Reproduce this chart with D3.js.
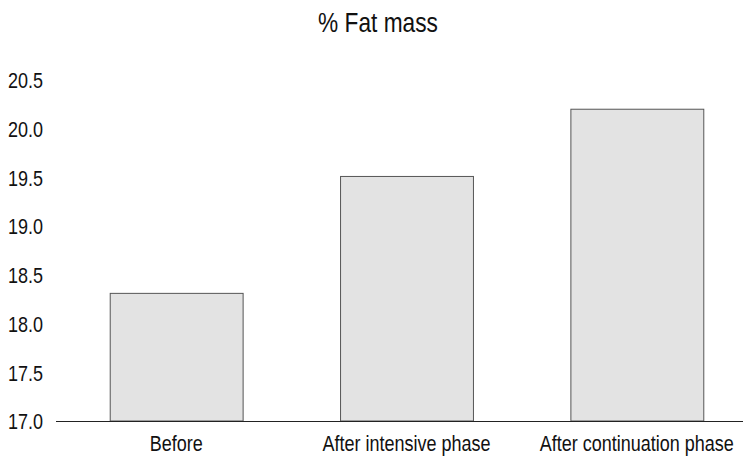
<!DOCTYPE html>
<html><head><meta charset="utf-8">
<script src="https://cdn.jsdelivr.net/npm/d3@7"></script>
<style>body{margin:0;background:#fff}svg{display:block}text{font-family:"Liberation Sans",Arial,Helvetica,sans-serif;fill:#111}</style>
</head><body>
<script>
const categories = ["Before", "After intensive phase", "After continuation phase"];
const values = [18.31, 19.51, 20.2];
const yTicks = [17.0, 17.5, 18.0, 18.5, 19.0, 19.5, 20.0, 20.5];
const title = "% Fat mass";

const W = 751, H = 463;
const SY = 1.2;
const svg = d3.select("body").append("svg").attr("width", W).attr("height", H);

const x = d3.scaleBand().domain(categories).range([61, 752]).paddingInner(0.423).paddingOuter(0.2115);
const y = d3.scaleLinear().domain([17.0, 20.5]).range([421, 80]);

svg.append("text").attr("transform", `translate(378,32) scale(1,${SY})`).attr("text-anchor", "middle")
  .style("font-size", "22.7px").text(title);

svg.selectAll("rect.bar").data(categories).enter().append("rect").attr("class", "bar")
  .attr("x", d => x(d) + 0.5)
  .attr("y", (d, i) => y(values[i]))
  .attr("width", x.bandwidth())
  .attr("height", (d, i) => y(17.0) - y(values[i]))
  .attr("fill", "#e3e3e3").attr("stroke", "#555").attr("stroke-width", 1);

const yAxis = svg.append("g").attr("transform", "translate(43,0)")
  .call(d3.axisLeft(y).tickValues(yTicks).tickFormat(d3.format(".1f")).tickSize(0).tickPadding(0));
yAxis.select(".domain").remove();
yAxis.selectAll("text").style("font-size", "18px").attr("fill", "#111")
  .attr("x", 0).attr("y", 0).attr("dy", null).attr("transform", `scale(1,${SY}) translate(0,${7.8 / SY})`);

const xAxis = svg.append("g").attr("transform", "translate(0,421)")
  .call(d3.axisBottom(x).tickSize(0));
xAxis.select(".domain").remove();
xAxis.selectAll("text").style("font-size", "18px").attr("fill", "#111")
  .attr("y", 0).attr("dy", null).attr("transform", `scale(1,${SY}) translate(0,${30 / SY})`);

svg.append("line").attr("x1", 56).attr("x2", 743).attr("y1", 421.5).attr("y2", 421.5)
  .attr("stroke", "#222").attr("stroke-width", 1.2);
</script>
</body></html>
